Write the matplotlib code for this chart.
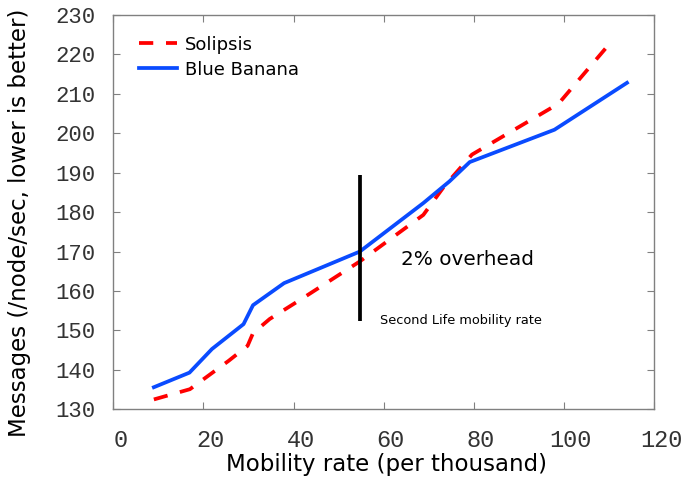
import matplotlib
matplotlib.use("Agg")
import matplotlib.pyplot as plt
import matplotlib.transforms as mtransforms

# data
sol_x = [9, 17, 25.6, 29.8, 31, 34.7, 41.8, 54.7, 68.8, 73.4, 79.6, 98.8, 110.8]
sol_y = [132.5, 135.1, 142.3, 146.1, 149.3, 152.9, 158.0, 167.5, 179.3, 186.5, 194.6, 207.5, 223.6]
bb_x = [9, 16.9, 21.9, 28.9, 31, 37.9, 54.7, 68.8, 74.6, 79.1, 97.9, 114]
bb_y = [135.6, 139.3, 145.3, 151.6, 156.4, 162.0, 170.0, 182.3, 187.8, 192.7, 200.9, 212.8]

sl_rate = 54.7
sl_span = (152.3, 189.5)

xticks = [0, 20, 40, 60, 80, 100, 120]
yticks = [130, 140, 150, 160, 170, 180, 190, 200, 210, 220, 230]

fig = plt.figure(figsize=(6.88, 4.79), dpi=100)
ax = fig.add_axes([0.1647, 0.1455, 0.7859, 0.8232])

ax.plot(sol_x, sol_y, color="#ff0000", lw=2.7, ls=(0, (3.8, 3.4)), label="Solipsis")
ax.plot(bb_x, bb_y, color="#0a4bff", lw=2.7, label="Blue Banana")
ax.vlines(sl_rate, sl_span[0], sl_span[1], color="black", lw=2.7)

ax.text(63.8, 167.9, "2% overhead", fontsize=14.4, va="center", ha="left")
ax.text(59.1, 152.6, "Second Life mobility rate", fontsize=9.3, va="center", ha="left")

ax.set_xlim(0, 120)
ax.set_ylim(130, 230)
ax.set_xticks(xticks)
ax.set_yticks(yticks)

for s in ax.spines.values():
    s.set_color("#808080")
    s.set_linewidth(1.0)
ax.tick_params(direction="in", length=5, color="#808080", top=True, right=True)
ax.tick_params(axis="y", pad=13, labelsize=16)
ax.tick_params(axis="x", pad=14, labelsize=17)
for lab in ax.get_xticklabels() + ax.get_yticklabels():
    lab.set_family("Liberation Mono")
    lab.set_color("#333333")
shift = mtransforms.ScaledTranslation(7 / 100, 0, fig.dpi_scale_trans)
for lab in ax.get_xticklabels():
    lab.set_transform(lab.get_transform() + shift)

ax.set_xlabel("Mobility rate (per thousand)", fontsize=16.5)
ax.set_ylabel("Messages (/node/sec, lower is better)", fontsize=16.5)
ax.xaxis.set_label_coords(0.505, -0.110)
ax.yaxis.set_label_coords(-0.152, 0.474)

ax.legend(loc="upper left", frameon=False, fontsize=13, handlelength=2.1,
          handletextpad=0.4, borderaxespad=0.3, labelspacing=0.4,
          bbox_to_anchor=(0.025, 0.98))

fig.savefig("out.png", dpi=100)
